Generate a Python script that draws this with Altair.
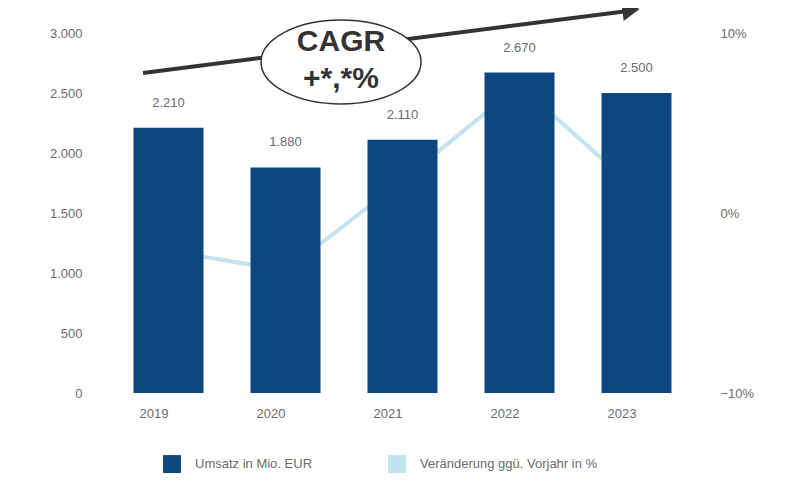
import altair as alt
import pandas as pd

years = ["2019", "2020", "2021", "2022", "2023"]
revenue = [2210, 1880, 2110, 2670, 2500]
growth = [-0.021, -0.032, 0.018, 0.071, 0.013]
series_names = ["Umsatz in Mio. EUR", "Veränderung ggü. Vorjahr in %"]
left_ticks = [0, 500, 1000, 1500, 2000, 2500, 3000]
right_ticks = [-0.10, 0.0, 0.10]

df = pd.DataFrame({"Jahr": years, "Umsatz": revenue, "Wachstum": growth})
df["s1"] = series_names[0]
df["s2"] = series_names[1]

W, H = 585, 360
DARK = "#0e4680"
LIGHT = "#c4e2f0"
GREY = "#6b6b6b"

color_scale = alt.Scale(domain=series_names, range=[DARK, LIGHT])
x_enc = alt.X("Jahr:N", sort=years, title=None,
              scale=alt.Scale(paddingInner=0.4, paddingOuter=0.2),
              axis=alt.Axis(labelAngle=0, labelFontSize=13, labelColor=GREY,
                            domain=False, ticks=False, labelPadding=20))

base = alt.Chart(df)

bars = base.mark_bar(size=70).encode(
    x=x_enc,
    y=alt.Y("Umsatz:Q", title=None, scale=alt.Scale(domain=[0, 3000], nice=False),
            axis=alt.Axis(values=left_ticks, labelFontSize=13, labelColor=GREY,
                          domain=False, ticks=False, grid=False, labelPadding=28,
                          labelExpr="replace(format(datum.value, ',d'), ',', '.')")),
    color=alt.Color("s1:N", scale=color_scale, title=None,
                    legend=alt.Legend(orient="none", legendX=53, legendY=422,
                                      direction="horizontal", symbolType="square",
                                      symbolSize=320, labelFontSize=13, labelColor=GREY,
                                      labelOffset=14, columnPadding=75,
                                      symbolStrokeWidth=0)),
)

labels = base.transform_calculate(
    lab="replace(format(datum.Umsatz, ',d'), ',', '.')"
).mark_text(dy=-18, baseline="bottom", fontSize=13, color=GREY).encode(
    x=alt.X("Jahr:N", sort=years),
    y=alt.Y("Umsatz:Q"),
    text="lab:N",
)

line = base.mark_line(strokeWidth=4).encode(
    x=alt.X("Jahr:N", sort=years),
    y=alt.Y("Wachstum:Q", title=None, scale=alt.Scale(domain=[-0.10, 0.10], nice=False),
            axis=alt.Axis(orient="right", values=right_ticks, format=".0%",
                          labelFontSize=13, labelColor=GREY, domain=False,
                          ticks=False, grid=False, labelPadding=25)),
    color=alt.Color("s2:N", scale=color_scale),
)

# CAGR annotation: arrow and ellipse
arrow_df = pd.DataFrame({"a": [0]})
arrow = alt.Chart(arrow_df).mark_rule(color="#333333", strokeWidth=4).encode(
    x=alt.value(33), y=alt.value(40), x2=alt.value(518), y2=alt.value(-22)
)
head = alt.Chart(arrow_df).mark_point(
    shape="triangle-right", filled=True, color="#333333", size=400, angle=352.6, opacity=1
).encode(x=alt.value(521), y=alt.value(-23))
ellipse = alt.Chart(arrow_df).mark_point(
    shape="M-1,0A1,0.525,0,1,1,1,0A1,0.525,0,1,1,-1,0Z",
    filled=False, fill="white", fillOpacity=1, stroke="#333333", strokeWidth=1.5,
    size=160 * 160, opacity=1,
).encode(x=alt.value(231), y=alt.value(29))
cagr1 = alt.Chart(arrow_df).mark_text(
    text="CAGR", fontSize=30, fontWeight="bold", color="#333333", font="Liberation Sans"
).encode(x=alt.value(231), y=alt.value(9))
cagr2 = alt.Chart(arrow_df).mark_text(
    text="+*,*%", fontSize=30, fontWeight="bold", color="#333333", font="Liberation Sans"
).encode(x=alt.value(231), y=alt.value(46))

left_group = alt.layer(bars, labels, arrow, head, ellipse, cagr1, cagr2)

chart = alt.layer(line, left_group).resolve_scale(
    y="independent"
).properties(
    width=W, height=H,
    autosize=alt.AutoSizeParams(type="none"),
    padding={"left": 102, "top": 25, "right": 91, "bottom": 92},
).configure_view(stroke=None).configure_axis(labelFont="Liberation Sans").configure_legend(
    labelFont="Liberation Sans", labelLimit=300
)

chart.save("out.html", embed_options={"renderer": "svg", "actions": False})
